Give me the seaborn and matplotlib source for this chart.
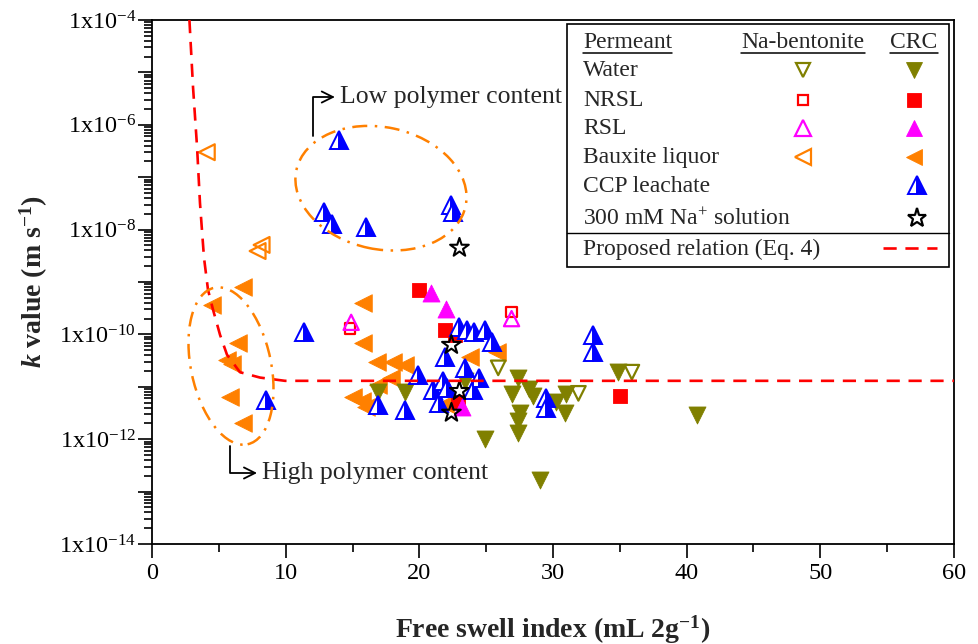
import numpy as np
import matplotlib
matplotlib.use("Agg")
import matplotlib.pyplot as plt
import seaborn as sns
from matplotlib.patches import Ellipse, Rectangle
from matplotlib.lines import Line2D
from matplotlib.transforms import ScaledTranslation
from matplotlib.ticker import FixedLocator, FixedFormatter, LogLocator, NullFormatter, MultipleLocator

# ---------------- data ----------------
water_nab_fsi = [25.9, 31.9, 35.9]
water_nab_k = [2.3e-11, 7.5e-12, 1.9e-11]
water_crc_fsi = [16.9, 18.9, 23.4, 24.9, 27.4, 26.9, 28.2, 28.5, 27.5, 27.4, 27.4,
                 31.0, 30.9, 34.9, 40.8, 29.0, 30.2]
water_crc_k = [7.9e-12, 7.9e-12, 1.3e-11, 1.0e-12, 1.5e-11, 7.3e-12, 9.1e-12, 6.6e-12,
               3.2e-12, 2.2e-12, 1.3e-12, 7.3e-12, 3.2e-12, 1.9e-11, 2.9e-12, 1.7e-13, 5.1e-12]

nrsl_nab_fsi = [14.8, 26.9]
nrsl_nab_k = [1.3e-10, 2.7e-10]
nrsl_crc_fsi = [20.0, 21.9, 22.7, 22.9, 35.0]
nrsl_crc_k = [7.1e-10, 1.2e-10, 9.8e-11, 5.1e-12, 6.6e-12]

rsl_nab_fsi = [14.9, 26.9]
rsl_nab_k = [1.7e-10, 2.0e-10]
rsl_crc_fsi = [20.9, 22.0, 23.2]
rsl_crc_k = [6.2e-10, 3.0e-10, 4.1e-12]

baux_nab_fsi = [4.1, 7.9, 8.2]
baux_nab_k = [3.0e-7, 3.9e-9, 5.1e-9]
baux_crc_fsi = [4.5, 6.8, 6.4, 5.6, 6.0, 5.8, 6.8, 15.8, 15.8, 16.8, 18.0, 18.9, 17.9,
                16.9, 15.0, 15.7, 16.0, 23.8, 25.8, 21.9]
baux_crc_k = [3.6e-10, 7.9e-10, 6.9e-11, 3.2e-11, 2.7e-11, 6.5e-12, 2.0e-12, 4.0e-10,
              6.9e-11, 3.0e-11, 3.0e-11, 2.6e-11, 1.5e-11, 1.1e-11, 6.4e-12, 5.4e-12,
              4.1e-12, 3.7e-11, 4.6e-11, 4.7e-12]

ccp_crc_fsi = [14.0, 12.9, 13.5, 16.0, 22.4, 22.5, 11.4, 8.5, 16.9, 18.9, 19.9, 21.0,
               21.8, 21.5, 21.9, 22.1, 23.0, 23.6, 24.1, 24.9, 25.4, 23.4, 24.5, 24.0,
               29.5, 29.5, 33.0, 33.0]
ccp_crc_k = [5.1e-7, 2.2e-8, 1.3e-8, 1.1e-8, 3.0e-8, 2.2e-8, 1.1e-10, 5.6e-12, 4.5e-12,
             3.6e-12, 1.7e-11, 8.7e-12, 1.3e-11, 4.9e-12, 3.7e-11, 9.5e-12, 1.4e-10,
             1.2e-10, 1.1e-10, 1.2e-10, 7.1e-11, 2.3e-11, 1.5e-11, 8.7e-12, 6.2e-12,
             4.0e-12, 9.8e-11, 4.6e-11]

na_fsi = [23.0, 22.4, 23.0, 22.4]
na_k = [4.5e-9, 6.3e-11, 8.3e-12, 3.2e-12]

eq4_fsi = [2.8, 3.07, 3.37, 3.59, 3.89, 4.19, 4.56, 5.09, 5.61, 6.58, 8.08, 9.95, 60.0]
eq4_k = [1e-4, 5.2e-6, 3.8e-7, 3.2e-8, 2.9e-9, 7.1e-10, 3.0e-10, 9.8e-11, 4.1e-11,
         1.9e-11, 1.5e-11, 1.3e-11, 1.3e-11]

y_exponents = list(range(-14, -3))
x_ticks = [0, 10, 20, 30, 40, 50, 60]

legend_rows = ["Water", "NRSL", "RSL", "Bauxite liquor", "CCP leachate",
               "300 mM Na$^{\\mathregular{+}}$ solution", "Proposed relation (Eq. 4)"]

# ---------------- style ----------------
sns.set_style("ticks")
plt.rcParams["font.family"] = ["Liberation Serif", "DejaVu Serif"]
plt.rcParams["mathtext.fontset"] = "custom"
plt.rcParams["mathtext.rm"] = "Liberation Serif"
plt.rcParams["mathtext.it"] = "Liberation Serif:italic:bold"
plt.rcParams["mathtext.bf"] = "Liberation Serif:bold"

OLIVE = "#808000"
RED = "#FF0000"
MAG = "#FF00FF"
ORANGE = "#FF8000"
BLUE = "#0000FF"

fig = plt.figure(figsize=(9.79, 6.44), dpi=100)
ax = fig.add_axes([152 / 979, 100 / 644, 802 / 979, 524 / 644])
ax.set_yscale("log")


def scat(x, y, marker, color, filled, s, lw=1.6, z=3):
    sns.scatterplot(x=x, y=y, ax=ax, marker=marker, s=s, color=color,
                    facecolor=(color if filled else "none"), edgecolor=color,
                    linewidth=(0.6 if filled else lw), legend=False, zorder=z)


scat(baux_crc_fsi, baux_crc_k, "<", ORANGE, True, 160)
scat(baux_nab_fsi, baux_nab_k, "<", ORANGE, False, 130)
scat(water_crc_fsi, water_crc_k, "v", OLIVE, True, 150)
scat(water_nab_fsi, water_nab_k, "v", OLIVE, False, 110)
scat(nrsl_crc_fsi, nrsl_crc_k, "s", RED, True, 100)
scat(nrsl_nab_fsi, nrsl_nab_k, "s", RED, False, 55)
scat(rsl_crc_fsi, rsl_crc_k, "^", MAG, True, 150)
scat(rsl_nab_fsi, rsl_nab_k, "^", MAG, False, 120)
ax.plot(ccp_crc_fsi, ccp_crc_k, linestyle="none", marker="^", ms=13, fillstyle="right",
        markerfacecolor=BLUE, markerfacecoloralt="white", markeredgecolor=BLUE,
        markeredgewidth=1.4, zorder=3)
scat(na_fsi, na_k, "*", "black", False, 200, lw=1.5, z=4)

sns.lineplot(x=eq4_fsi, y=eq4_k, ax=ax, estimator=None, sort=False, color=RED,
             linewidth=1.9, linestyle=(0, (5.0, 3.3)), legend=False, zorder=6)

# ---------------- axes ----------------
ax.set_xlim(0, 60)
ax.set_ylim(1e-14, 1e-4)
ax.xaxis.set_major_locator(FixedLocator(x_ticks))
ax.xaxis.set_minor_locator(MultipleLocator(5))
ax.set_xticklabels([str(v) for v in x_ticks])
ax.yaxis.set_major_locator(FixedLocator([10.0 ** e for e in y_exponents]))
ax.yaxis.set_major_formatter(FixedFormatter(
    ["1x10$^{\\mathregular{%d}}$" % e if e % 2 == 0 else "" for e in y_exponents]))
ax.yaxis.set_minor_locator(LogLocator(base=10, subs=np.arange(2, 10), numticks=100))
ax.yaxis.set_minor_formatter(NullFormatter())
for sp in ax.spines.values():
    sp.set_linewidth(1.3)
    sp.set_color("black")
    sp.set_visible(True)
ax.tick_params(which="both", direction="out", top=False, right=False, width=1.2,
               color="black", labelcolor="black")
ax.tick_params(which="major", length=10, labelsize=17.5)
ax.tick_params(axis="x", which="major", pad=4)
ax.tick_params(axis="y", which="major", pad=1.5)
ax.tick_params(which="minor", length=5.5)
ax.set_xlabel("Free swell index (mL 2g$^{\\mathregular{-1}}$)", fontsize=20,
              fontweight="bold")
ax.xaxis.set_label_coords(0.5, -0.132)
ax.set_ylabel("$k$ value (m s$^{\\mathregular{-1}}$)", fontsize=20, fontweight="bold")
ax.yaxis.set_label_coords(-0.127, 0.5)

# ---------------- ellipses and annotations ----------------
def ellipse(cx, cy, w_px, h_px, ang):
    tr = fig.dpi_scale_trans + ScaledTranslation(cx, cy, ax.transAxes)
    e = Ellipse((0, 0), w_px / 100, h_px / 100, angle=ang, transform=tr, fill=False,
                edgecolor=ORANGE, linewidth=1.8, linestyle=(0, (6, 3, 1, 3)), zorder=7)
    fig.add_artist(e)


ellipse(0.2855, 0.679, 173, 122, -12)
ellipse(0.0985, 0.3397, 80, 160, 12)

arrow_kw = dict(arrowstyle="->", connectionstyle="angle,angleA=90,angleB=0,rad=0",
                lw=1.3, color="black", shrinkA=0, shrinkB=0, mutation_scale=20)
ax.annotate("", xy=(0.228, 0.853), xytext=(0.2007, 0.778), xycoords="axes fraction",
            textcoords="axes fraction", arrowprops=arrow_kw)
ax.text(0.234, 0.853, "Low polymer content", transform=ax.transAxes, fontsize=18.5,
        ha="left", va="center")
ax.annotate("", xy=(0.131, 0.1355), xytext=(0.0973, 0.187), xycoords="axes fraction",
            textcoords="axes fraction", arrowprops=arrow_kw)
ax.text(0.137, 0.1355, "High polymer content", transform=ax.transAxes, fontsize=18.5,
        ha="left", va="center")

# ---------------- table-style legend ----------------
def fx(px):
    return (px - 152) / 802


def fy(py):
    return (544 - py) / 524


ax.add_patch(Rectangle((fx(567), fy(267)), fx(949) - fx(567), fy(24) - fy(267),
                       transform=ax.transAxes, fill=True, facecolor="white",
                       edgecolor="black", linewidth=1.2, zorder=8))
ax.add_line(Line2D([fx(567), fx(949)], [fy(233), fy(233)], transform=ax.transAxes,
                   color="black", linewidth=1.0, zorder=9))
LFS = 17
col_text = fx(583)
col_nab = fx(803)
col_crc = fx(914)
headers = [ax.text(col_text, fy(43), "Permeant", transform=ax.transAxes, fontsize=LFS,
                   ha="left", va="center", zorder=10),
           ax.text(col_nab, fy(43), "Na-bentonite", transform=ax.transAxes, fontsize=LFS,
                   ha="center", va="center", zorder=10),
           ax.text(col_crc, fy(43), "CRC", transform=ax.transAxes, fontsize=LFS,
                   ha="center", va="center", zorder=10)]
row_y = [71, 101, 129, 158, 186, 219, 249]
for lab, py in zip(legend_rows, row_y):
    ax.text(col_text, fy(py), lab, transform=ax.transAxes, fontsize=LFS, ha="left",
            va="center", zorder=10)


def lmark(x, py, marker, color, filled, ms, **kw):
    ax.plot([x], [fy(py)], transform=ax.transAxes, linestyle="none", marker=marker,
            ms=ms, markerfacecolor=(color if filled else "white"), markeredgecolor=color,
            markeredgewidth=(0.6 if filled else 1.6), clip_on=False, zorder=10, **kw)


lmark(col_nab, 70, "v", OLIVE, False, 10.5)
lmark(col_crc, 70, "v", OLIVE, True, 12)
lmark(col_nab, 100, "s", RED, False, 7.5)
lmark(col_crc, 100, "s", RED, True, 10)
lmark(col_nab, 128, "^", MAG, False, 11)
lmark(col_crc, 128, "^", MAG, True, 12)
lmark(col_nab, 157, "<", ORANGE, False, 11)
lmark(col_crc, 157, "<", ORANGE, True, 12)
ax.plot([col_crc + 0.004], [fy(185)], transform=ax.transAxes, linestyle="none",
        marker="^", ms=12.5, fillstyle="right", markerfacecolor=BLUE,
        markerfacecoloralt="white", markeredgecolor=BLUE, markeredgewidth=1.4,
        clip_on=False, zorder=10)
lmark(col_crc + 0.004, 218, "*", "black", False, 14)
ax.add_line(Line2D([fx(883), fx(937)], [fy(248), fy(248)], transform=ax.transAxes,
                   color=RED, linewidth=1.9, linestyle=(0, (5.0, 3.3)), zorder=10))

# underline the header words
fig.canvas.draw()
rend = fig.canvas.get_renderer()
inv = ax.transAxes.inverted()
for t in headers:
    bb = t.get_window_extent(rend)
    (x0, y0), (x1, _) = inv.transform([(bb.x0, bb.y0 + 1), (bb.x1, bb.y0 + 1)])
    ax.add_line(Line2D([x0, x1], [y0, y0], transform=ax.transAxes, color="black",
                       linewidth=1.1, zorder=10))

fig.savefig("out.png", dpi=100)
